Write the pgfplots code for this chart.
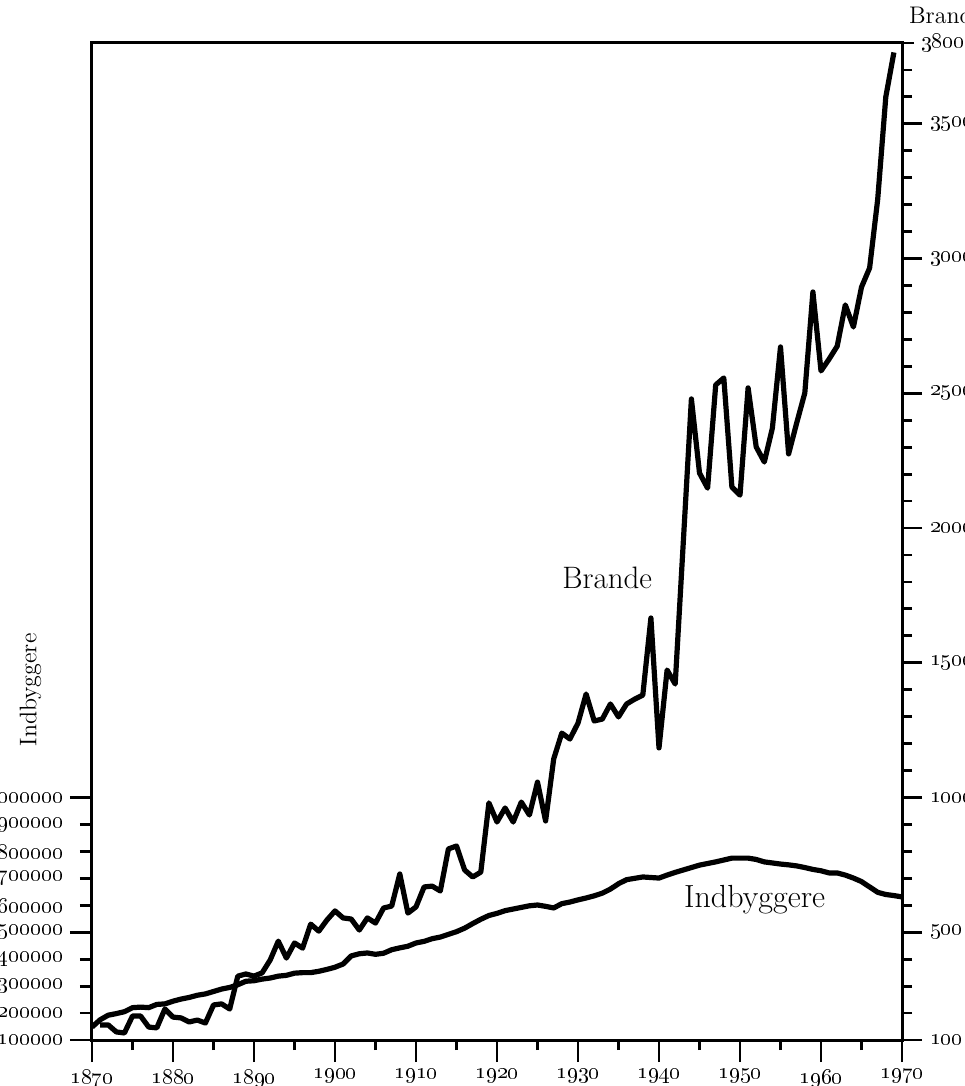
\documentclass[border=0pt]{standalone}
\usepackage{pgfplots}
\pgfplotsset{compat=1.18}
\usepackage{pgfplotstable}

\pgfplotstableread{
year val
1871 156
1872 156
1873 130
1874 126
1875 189
1876 189
1877 148
1878 145
1879 215
1880 185
1881 182
1882 167
1883 174
1884 163
1885 230
1886 234
1887 215
1888 337
1889 345
1890 337
1891 349
1892 397
1893 467
1894 404
1895 460
1896 441
1897 530
1898 504
1899 545
1900 579
1901 553
1902 549
1903 508
1904 553
1905 534
1906 590
1907 597
1908 716
1909 571
1910 594
1911 668
1912 671
1913 653
1914 809
1915 820
1916 731
1917 705
1918 723
1919 980
1920 909
1921 961
1922 909
1923 983
1924 935
1925 1057
1926 913
1927 1143
1928 1239
1929 1217
1930 1276
1931 1384
1932 1284
1933 1291
1934 1347
1935 1299
1936 1347
1937 1365
1938 1380
1939 1666
1940 1184
1941 1473
1942 1421
1943 1948
1944 2479
1945 2204
1946 2148
1947 2531
1948 2557
1949 2152
1950 2122
1951 2520
1952 2301
1953 2245
1954 2371
1955 2672
1956 2275
1957 2390
1958 2501
1959 2876
1960 2583
1961 2627
1962 2675
1963 2828
1964 2746
1965 2894
1966 2965
1967 3220
1968 3600
1969 3765
}\brande

\pgfplotstableread{
year val
1870 148
1871 175
1872 192
1873 198
1874 205
1875 220
1876 222
1877 220
1878 232
1879 234
1880 244
1881 252
1882 258
1883 266
1884 271
1885 280
1886 289
1887 295
1888 305
1889 318
1890 320
1891 326
1892 330
1893 337
1894 340
1895 348
1896 350
1897 350
1898 355
1899 362
1900 370
1901 382
1902 412
1903 420
1904 423
1905 418
1906 422
1907 435
1908 442
1909 448
1910 460
1911 466
1912 476
1913 482
1914 492
1915 502
1916 515
1917 532
1918 548
1919 562
1920 570
1921 580
1922 586
1923 592
1924 598
1925 601
1926 596
1927 590
1928 606
1929 612
1930 620
1931 627
1932 635
1933 645
1934 660
1935 680
1936 695
1937 700
1938 705
1939 703
1940 701
1941 712
1942 722
1943 731
1944 740
1945 749
1946 755
1947 761
1948 768
1949 775
1950 775
1951 775
1952 770
1953 761
1954 757
1955 753
1956 750
1957 746
1958 740
1959 733
1960 728
1961 720
1962 720
1963 712
1964 701
1965 688
1966 668
1967 648
1968 640
1969 636
1970 631
}\indb

\newcommand{\osn}[1]{\oldstylenums{#1}}

\begin{document}
\begin{tikzpicture}
\begin{axis}[
  scale only axis, width=405pt, height=498.5pt,
  xmin=1870, xmax=1970, ymin=100, ymax=3800,
  axis line style={line width=1.5pt, black},
  every tick/.style={line width=1.4pt, black},
  tick align=outside,
  xtick pos=left, ytick pos=left,
  xtick={1870,1880,...,1970},
  xticklabels={\osn{1870},\osn{1880},\osn{1890},\osn{1900},\osn{1910},\osn{1920},\osn{1930},\osn{1940},\osn{1950},\osn{1960},\osn{1970}},
  minor xtick={1875,1885,...,1965},
  major tick length=11pt, minor tick length=5pt,
  ytick={100,500,1000},
  yticklabels={\osn{100000},\osn{500000},\osn{1000000}},
  extra y ticks={200,300,400,600,700,800,900},
  extra y tick labels={\osn{200000},\osn{300000},\osn{400000},\osn{600000},\osn{700000},\osn{800000},\osn{900000}},
  extra y tick style={major tick length=6pt, yticklabel style={xshift=-5pt}},
  tick label style={font=\fontsize{10.5}{12}\selectfont, black},
  xticklabel style={font=\fontsize{11}{12}\selectfont},
  clip=false,
]
\addplot[line width=2.6pt, line join=round, black] table[x=year,y=val]{\brande};
\addplot[line width=2.6pt, line join=round, black] table[x=year,y=val]{\indb};
\node at (axis cs:1933.6,1814) {\fontsize{15.5}{18}\selectfont Brande};
\node at (axis cs:1951.8,620) {\fontsize{16}{18}\selectfont Indbyggere};
\node[rotate=90] at (axis cs:1862.4,1399) {\fontsize{12}{14}\selectfont Indbyggere};
\end{axis}
\begin{axis}[
  scale only axis, width=405pt, height=498.5pt,
  xmin=1870, xmax=1970, ymin=100, ymax=3800,
  axis y line*=right, axis x line=none,
  axis line style={line width=1.5pt, black},
  every tick/.style={line width=1.4pt, black},
  tick align=outside,
  ytick={100,500,1000,1500,2000,2500,3000,3500},
  yticklabels={\osn{100},\osn{500},\osn{1000},\osn{1500},\osn{2000},\osn{2500},\osn{3000},\osn{3500}},
  minor ytick={200,300,...,3700},
  extra y ticks={3800},
  extra y tick labels={\osn{3800}},
  extra y tick style={major tick length=6pt, yticklabel style={xshift=-0.5pt}},
  major tick length=10pt, minor tick length=5pt,
  tick label style={font=\fontsize{11}{12}\selectfont, black},
  yticklabel style={xshift=0.5pt},
  clip=false,
]
\node[anchor=west] at (rel axis cs:1,1) [xshift=0pt, yshift=14pt] {\fontsize{12}{14}\selectfont Brande};
\end{axis}
\pgfresetboundingbox
\path[use as bounding box] (-46pt,-23pt) rectangle (436pt,520pt);
\end{tikzpicture}
\end{document}
